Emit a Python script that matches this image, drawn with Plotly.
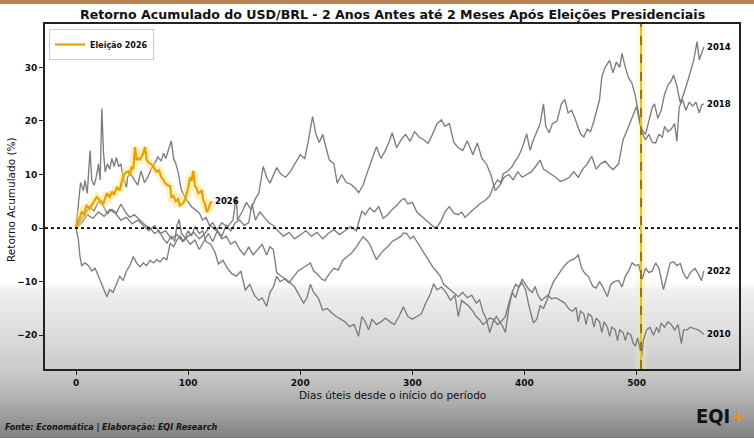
import plotly.graph_objects as go

# ---------------- data (dias úteis, retorno acumulado %) ----------------
serie_2010 = [(0,0),(2,4),(4,8.5),(6.5,7),(8,8.9),(10,6.5),(12.5,14.5),(14,9),(16,8.0),(18,9.5),(20,12),(21.5,9),(23,22.3),(24.5,14),(26,10.5),(28,12.0),(30,11),(32,13),(34,11.5),(36,13.2),(38,11.5),(40,12),(42,9.5),(45,7.6),(46,9.6),(49,10.0),(52,9.0),(55,8.0),(58,10.7),(61,8.5),(64,9.5),(67,11.0),(70,12.0),(73,13.3),(76,12.5),(78,14.0),(80,13.0),(82,14.5),(85,16.3),(87,13.0),(89,12.0),(91,10.5),(94,7.1),(97,5.8),(100,5.0),(103,4.0),(106,3.5),(110,2.8),(113,1.5),(116,2.0),(119,0.5),(122,1.0),(126,-0.5),(130,-2.0),(134,-1.5),(138,-3.0),(142,-2.5),(146,-4.0),(150,-5.0),(154,-3.5),(158,-5.0),(162,-4.0),(166,-3.0),(170,-5.0),(173,-3.5),(176,-4.0),(179,-8.3),(183,-9.0),(187,-9.5),(191,-10.2),(195,-11.0),(199,-12.5),(203,-14.0),(206,-13.0),(209,-10.5),(212,-12.0),(216,-13.0),(220,-15.3),(224,-15.0),(228,-15.8),(232,-16.5),(236,-17.0),(240,-17.5),(244,-18.4),(248,-18.0),(252,-20.2),(255,-16.5),(258,-17.5),(261,-19.0),(264,-17.0),(268,-18.0),(272,-17.5),(276,-16.8),(280,-17.5),(284,-18.0),(288,-16.5),(292,-14.7),(296,-16.5),(300,-17.0),(304,-16.5),(308,-16.0),(312,-14.0),(316,-12.3),(319,-10.4),(322,-11.5),(326,-11.0),(330,-12.0),(334,-13.5),(338,-12.5),(341,-16.5),(344,-13.5),(347,-14.0),(350,-14.5),(354,-15.5),(357,-16.5),(360,-17.1),(363,-18.0),(366,-17.5),(369,-16.8),(372,-17.0),(376,-18.0),(379,-17.5),(383,-16.5),(386,-14.0),(389,-12.0),(392,-10.5),(395,-11.0),(398,-9.5),(401,-10.5),(404,-11.5),(407,-12.0),(409.5,-10.9),(412,-12.5),(415,-13.5),(418,-13.0),(421,-12.5),(424,-13.2),(428,-13.0),(432,-13.5),(436,-14.0),(440,-15.2),(443,-15.5),(446,-14.8),(448,-17.5),(450,-15.5),(453,-16.0),(455,-18.0),(457,-16.0),(460,-16.5),(462,-18.5),(464,-16.8),(467,-17.5),(469,-19.5),(471,-17.5),(474,-18.5),(476,-20.2),(478,-18.5),(481,-19.0),(483,-21.0),(485,-19.0),(488,-19.5),(490,-21.0),(492,-19.5),(495,-20.0),(497,-21.5),(499,-22.0),(501,-20.5),(503,-22.5),(504.6,-24.0),(506,-21.0),(509,-19.0),(512,-18.5),(515,-20.0),(518,-18.5),(520,-19.5),(522,-17.7),(525,-18.5),(528,-17.5),(531,-18.0),(534,-19.0),(537,-18.0),(540,-21.5),(542,-19.0),(545,-19.0),(548,-18.5),(552,-18.8),(555,-19.0),(558,-19.5),(560,-19.8)]

serie_2014 = [(0,0),(5,1.0),(10,2.5),(15,1.8),(20,3.0),(25,2.2),(30,3.5),(35,2.8),(40,1.5),(45,2.0),(50,0.8),(55,1.5),(60,0.5),(65,-0.5),(70,0.5),(75,-1.0),(80,-0.5),(85,-2.0),(90,-1.2),(95,-2.5),(100,-1.5),(105,-0.8),(110,-2.0),(115,-1.0),(120,0.5),(125,-0.5),(130,1.0),(135,0.2),(140,1.5),(143,6.0),(144,1.5),(148,3.0),(152,4.8),(156,3.5),(160,5.5),(163,6.5),(167,11.5),(170,9.5),(173,8.4),(176,10.0),(179,11.3),(183,10.0),(187,9.5),(191,10.5),(195,12.0),(200,13.7),(204,13.0),(207,16.0),(211,20.8),(214,17.5),(217,16.0),(220,17.5),(223,15.0),(226,12.7),(230,12.0),(233,8.4),(237,10.0),(241,8.5),(245,8.2),(249,7.5),(252,6.6),(256,8.0),(260,10.5),(264,13.0),(268,15.2),(272,13.0),(276,14.5),(280,16.5),(282,17.8),(286,15.0),(290,16.5),(294,17.5),(298,16.2),(302,18.0),(306,17.0),(310,16.5),(314,15.8),(318,17.5),(322,19.5),(326,20.2),(329,19.0),(333,19.5),(337,16.0),(341,15.0),(345,14.5),(349,16.3),(354,13.7),(358,15.9),(362,13.0),(366,12.0),(370,10.0),(374,7.0),(378,8.0),(382,9.5),(386,10.0),(390,9.0),(394,10.5),(398,9.5),(402,10.0),(406,10.5),(410,11.5),(414,12.7),(417,11.0),(420,10.5),(424,10.0),(428,9.5),(432,8.7),(436,9.0),(440,9.5),(444,10.5),(448,9.5),(452,11.0),(456,12.0),(460,13.4),(464,11.0),(468,12.0),(472,12.5),(476,11.5),(479,10.9),(484,12.0),(488,16.5),(492,18.5),(496,20.5),(500,22.7),(503,19.5),(505,18.3),(508,17.5),(511,20.0),(514,22.5),(516,23.2),(519,20.5),(522,22.0),(525,25.0),(528,26.7),(531,27.5),(533,28.6),(536,26.5),(539,23.4),(542,25.0),(546,27.7),(548,29.0),(551,31.3),(554,34.8),(556,31.4),(558,32.6),(560,33.8)]

serie_2018 = [(0,0),(4,1.5),(8,2.5),(12,4.0),(16,3.2),(20,5.0),(24,4.2),(28,2.7),(32,3.5),(36,2.8),(40,4.5),(44,3.0),(48,2.0),(52,2.5),(57,1.5),(62,0.5),(66,0.0),(70,-1.0),(74,-0.5),(78,-2.0),(81,-2.8),(85,-1.5),(88,-2.5),(90,0.5),(92,1.6),(94,-1.0),(98,-2.0),(102,-3.0),(106,-2.2),(110,-4.0),(114,-2.5),(118,-1.0),(122,-2.5),(126,-0.5),(130,-1.5),(134,0.5),(138,-0.5),(142,1.0),(146,1.5),(150,0.5),(154,1.0),(157,4.5),(160,1.5),(164,3.0),(168,2.0),(172,1.0),(176,0.5),(180,-0.5),(185,-1.5),(190,-0.8),(195,-2.0),(200,-1.2),(205,-0.5),(210,-1.5),(215,-0.8),(220,-2.0),(225,-1.0),(230,-0.3),(235,-1.2),(240,-0.5),(245,0.3),(250,-0.5),(255,3.2),(258,2.5),(262,3.8),(266,3.0),(270,4.0),(274,1.8),(278,2.5),(282,3.5),(286,4.2),(290,5.2),(293,5.5),(296,4.5),(300,4.8),(304,3.0),(308,2.2),(312,1.5),(316,0.8),(320,0.0),(323,0.5),(326,1.5),(329,3.0),(333,4.0),(337,2.8),(341,2.5),(344,3.0),(347,2.0),(352,3.0),(356,3.8),(360,4.5),(365,5.2),(369,6.0),(372,7.6),(376,9.0),(379,8.5),(381,10.1),(386,10.8),(389,11.5),(392,12.6),(395,13.5),(398,15.0),(402,17.6),(405,14.5),(408,16.5),(411,18.0),(414,19.5),(417,23.2),(419,19.0),(422,17.8),(425,19.5),(429,20.0),(433,23.2),(436,24.0),(439,21.5),(442,22.0),(445,20.5),(450,17.6),(453,17.0),(456,18.5),(459,18.0),(462,20.0),(465,22.5),(467,24.0),(469,28.2),(472,30.0),(476,31.3),(479,29.0),(482,31.0),(485,30.0),(487,32.6),(490,30.0),(493,28.0),(496,27.0),(499,24.6),(502,21.0),(505,17.8),(508,16.5),(511,17.5),(514,16.0),(517,15.9),(520,17.5),(523,17.0),(525,19.0),(528,18.0),(531,18.5),(534,19.5),(536,16.2),(538,22.5),(541,24.0),(544,22.0),(547,23.5),(550,22.8),(553,23.5),(556,21.5),(558,23.0),(560,23.2)]

serie_2022 = [(0,0),(2,-2),(3.5,-5.3),(5,-7),(8,-6.5),(11,-7.0),(14,-8.0),(17,-7.5),(20,-9.0),(23,-10.5),(26,-11.7),(27.5,-12.8),(30,-11.5),(33,-12.0),(36,-10.5),(39,-9.0),(42,-9.8),(45,-8.0),(48,-7.0),(51,-5.3),(54,-6.5),(57,-7.2),(60,-6.5),(63,-7.0),(66,-6.0),(69,-6.5),(72,-5.9),(75,-6.3),(78,-5.5),(81,-5.9),(84,-2.8),(87,-3.5),(90,-2.2),(93,-1.5),(96,-2.5),(100,-0.5),(103,-1.5),(106,0.3),(110,-1.0),(113,-0.5),(116,-2.5),(120,-3.0),(124,-4.5),(127,-6.7),(131,-6.0),(135,-7.5),(139,-8.5),(143,-9.0),(147,-8.0),(151,-11.6),(155,-10.5),(159,-12.5),(163,-13.5),(166,-13.0),(170,-14.6),(173,-12.0),(176,-11.0),(179,-9.0),(182,-10.0),(186,-9.5),(190,-10.2),(194,-9.0),(198,-8.0),(202,-7.5),(206,-7.0),(209,-6.5),(212,-8.0),(215,-8.5),(219,-9.5),(222,-9.8),(226,-8.5),(230,-7.5),(234,-7.8),(238,-6.0),(242,-5.3),(246,-4.6),(250,-3.5),(253,-2.5),(256,-1.6),(259,-2.2),(262,-3.0),(265,-4.5),(268,-5.9),(271,-5.0),(274,-4.2),(278,-3.5),(282,-2.5),(286,-2.0),(290,-1.5),(292,-0.9),(295,-1.0),(298,-2.0),(301,-1.5),(304,-2.5),(307,-3.5),(310,-4.5),(313,-5.5),(316,-6.5),(319,-7.5),(322,-8.2),(325,-9.0),(328,-10.5),(331,-11.0),(334,-11.5),(337,-12.0),(341,-12.8),(345,-12.0),(349,-13.0),(353,-12.5),(357,-14.0),(360,-13.4),(363,-15.6),(366,-17.0),(369,-19.5),(372,-17.5),(375,-16.5),(378,-17.5),(381,-18.5),(383,-19.5),(386,-15.0),(389,-12.0),(392,-13.0),(395,-11.0),(398,-10.2),(401,-11.5),(404,-14.5),(408,-17.7),(411,-17.0),(414,-14.5),(417,-15.0),(420,-13.5),(423,-11.5),(426,-10.0),(429,-9.0),(432,-8.0),(435,-7.2),(438,-6.5),(441,-6.0),(444,-5.8),(448,-5.0),(451,-7.5),(454,-8.5),(457,-9.0),(461,-10.9),(464,-11.2),(467,-10.0),(470,-11.0),(474,-12.8),(477,-10.5),(480,-10.0),(484,-9.8),(487,-11.0),(490,-9.0),(493,-8.0),(496,-6.5),(499,-7.0),(502,-6.8),(505,-9.5),(508,-7.5),(511,-8.3),(514,-8.0),(517,-6.5),(520,-7.5),(522,-9.5),(524,-11.5),(527,-9.0),(530,-6.5),(533,-6.3),(536,-7.0),(539,-6.6),(542,-8.5),(545,-9.5),(548,-8.3),(552,-7.5),(555,-8.5),(558,-9.8),(560,-8.0)]

serie_2026 = [(0,0),(2,1.5),(3.5,2.0),(5,3.0),(7,2.6),(9.5,4.3),(12,3.6),(15.5,4.9),(18.5,5.8),(21.5,5.2),(24.4,4.6),(27.4,6.5),(30,5.8),(32,6.8),(34,6.2),(36.4,7.7),(39,7.0),(41,8.9),(43.7,10.3),(46.6,10.6),(48,9.8),(49.7,11.5),(51,11.0),(52.6,15.1),(54,12.7),(55.5,13.0),(57,12.8),(59,13.5),(61.6,15.1),(63,12.7),(65,12.2),(67.6,11.8),(70,11.0),(72,10.5),(74,10.8),(76,9.5),(78,9.0),(79.4,8.4),(82,8.0),(84,7.8),(85,5.8),(87,6.0),(89,5.0),(91,5.4),(92.5,4.2),(94,4.5),(96,4.8),(97.5,5.5),(100,7.5),(101.7,9.5),(103,8.8),(104.6,10.7),(106,7.8),(107.6,7.5),(109,6.5),(111,6.8),(112,7.1),(113.6,5.1),(115,4.5),(116.6,3.0),(118,3.5),(119.5,4.5),(121,5.0)]

anos_cinza = ["2010", "2014", "2018", "2022"]
series_cinza = [serie_2010, serie_2014, serie_2018, serie_2022]
dia_eleicao = 504
ticks_x = [0, 100, 200, 300, 400, 500]
ticks_y = [-20, -10, 0, 10, 20, 30]

# ---------------- geometry helpers (pixels -> paper) ----------------
W, H = 754, 439
PL, PR, PT, PB = 45, 739, 24, 369
def px_x(px):
    return (px - PL) / (PR - PL)
def px_y(py):
    return (PB - py) / (PB - PT)

def xs(s):
    return [p[0] for p in s]
def ys(s):
    return [p[1] for p in s]

fig = go.Figure()

for ano, s in zip(anos_cinza, series_cinza):
    fig.add_trace(go.Scatter(x=xs(s), y=ys(s), mode="lines",
                             line=dict(color="#7d7d7d", width=1.35),
                             name=ano, showlegend=False, hoverinfo="skip"))

fig.add_trace(go.Scatter(x=xs(serie_2026), y=ys(serie_2026), mode="lines",
                         line=dict(color="rgba(255,225,110,0.45)", width=8),
                         showlegend=False, hoverinfo="skip"))
fig.add_trace(go.Scatter(x=xs(serie_2026), y=ys(serie_2026), mode="lines",
                         line=dict(color="#E8A200", width=2.2),
                         name="<b>Eleição 2026</b>", showlegend=True))

shapes = []
stops = [(282, 255), (290, 240), (330, 222), (370, 203), (400, 176), (439, 128)]
def grey_at(py):
    for (a, ga), (b, gb) in zip(stops[:-1], stops[1:]):
        if a <= py <= b:
            return ga + (gb - ga) * (py - a) / (b - a)
    return 255
py = 282
while py < H:
    g = int(round(grey_at(py + 1.5)))
    shapes.append(dict(type="rect", xref="paper", yref="paper",
                       x0=px_x(-2), x1=px_x(W + 2), y0=px_y(py + 3.2), y1=px_y(py),
                       fillcolor=f"rgb({g},{g},{g})", line=dict(width=0), layer="below"))
    py += 3
shapes.append(dict(type="rect", xref="paper", yref="paper",
                   x0=px_x(-2), x1=px_x(W + 2), y0=px_y(4), y1=px_y(-2),
                   fillcolor="#b5835a", line=dict(width=0), layer="below"))
shapes.append(dict(type="rect", xref="x", yref="paper", x0=dia_eleicao - 5, x1=dia_eleicao + 5,
                   y0=0, y1=1, fillcolor="rgba(255,240,160,0.30)", line=dict(width=0), layer="below"))
shapes.append(dict(type="line", xref="paper", yref="y", x0=0, x1=1, y0=0, y1=0,
                   line=dict(color="black", width=1.6, dash="dot"), layer="above"))
shapes.append(dict(type="line", xref="x", yref="paper", x0=dia_eleicao, x1=dia_eleicao, y0=0, y1=1,
                   line=dict(color="#E9C22A", width=2.2), layer="above"))
shapes.append(dict(type="line", xref="x", yref="paper", x0=dia_eleicao, x1=dia_eleicao, y0=0, y1=1,
                   line=dict(color="#3a3000", width=1, dash="dash"), layer="above"))

annotations = []
lbl_font = dict(family="DejaVu Sans", size=8.5, color="black", weight="bold")
for ano, s in zip(anos_cinza + ["2026"], series_cinza + [serie_2026]):
    annotations.append(dict(x=s[-1][0] + 1, y=s[-1][1], xref="x", yref="y", text=ano,
                            showarrow=False, xanchor="left", yanchor="middle", font=lbl_font))

annotations.append(dict(x=px_x(392), y=px_y(14), xref="paper", yref="paper",
                        text="<b>Retorno Acumulado do USD/BRL - 2 Anos Antes até 2 Meses Após Eleições Presidenciais</b>",
                        showarrow=False, xanchor="center", yanchor="middle",
                        font=dict(family="DejaVu Sans", size=12.6, color="#111")))
annotations.append(dict(x=px_x(3), y=px_y(427), xref="paper", yref="paper",
                        text="Fonte: Economática | Elaboração: EQI Research",
                        showarrow=False, xanchor="left", yanchor="middle",
                        font=dict(family="DejaVu Sans", size=8, color="#151515", style="italic", weight="bold")))
annotations.append(dict(x=px_x(747), y=px_y(416), xref="paper", yref="paper",
                        text="<b>EQI</b><b><span style='color:#E0902A'>+</span></b>",
                        showarrow=False, xanchor="right", yanchor="middle",
                        font=dict(family="DejaVu Sans Condensed", size=20, color="#111")))
annotations.append(dict(x=px_x(392), y=px_y(395), xref="paper", yref="paper",
                        text="Dias úteis desde o início do período",
                        showarrow=False, xanchor="center", yanchor="middle",
                        font=dict(family="DejaVu Sans", size=10.5, color="#111")))
annotations.append(dict(x=px_x(11), y=px_y(200), xref="paper", yref="paper",
                        text="Retorno Acumulado (%)", textangle=-90,
                        showarrow=False, xanchor="center", yanchor="middle",
                        font=dict(family="DejaVu Sans", size=10.5, color="#111")))

axis_common = dict(showline=True, mirror=True, linecolor="#222", linewidth=1.6,
                   ticks="outside", ticklen=4, tickcolor="#222", tickwidth=1,
                   showgrid=False, zeroline=False, automargin=False,
                   tickfont=dict(family="DejaVu Sans", size=9, color="#111", weight="bold"))

fig.update_layout(
    width=W, height=H, autosize=False,
    margin=dict(l=PL, r=W - PR, t=PT, b=H - PB, autoexpand=False),
    paper_bgcolor="white", plot_bgcolor="rgba(0,0,0,0)",
    shapes=shapes, annotations=annotations,
    xaxis=dict(range=[-27.7, 591.4], tickvals=ticks_x, **axis_common),
    yaxis=dict(range=[-26.3, 38.1], tickvals=ticks_y, **axis_common),
    legend=dict(x=px_x(49), y=px_y(29), xanchor="left", yanchor="top",
                bgcolor="white", bordercolor="#cccccc", borderwidth=1,
                font=dict(family="DejaVu Sans", size=8, color="#111"),
                itemwidth=30, tracegroupgap=0),
    showlegend=True,
)

fig.write_html("out.html", config={"displayModeBar": False},
               post_script="document.body.style.margin='0';document.body.style.overflow='hidden';")
